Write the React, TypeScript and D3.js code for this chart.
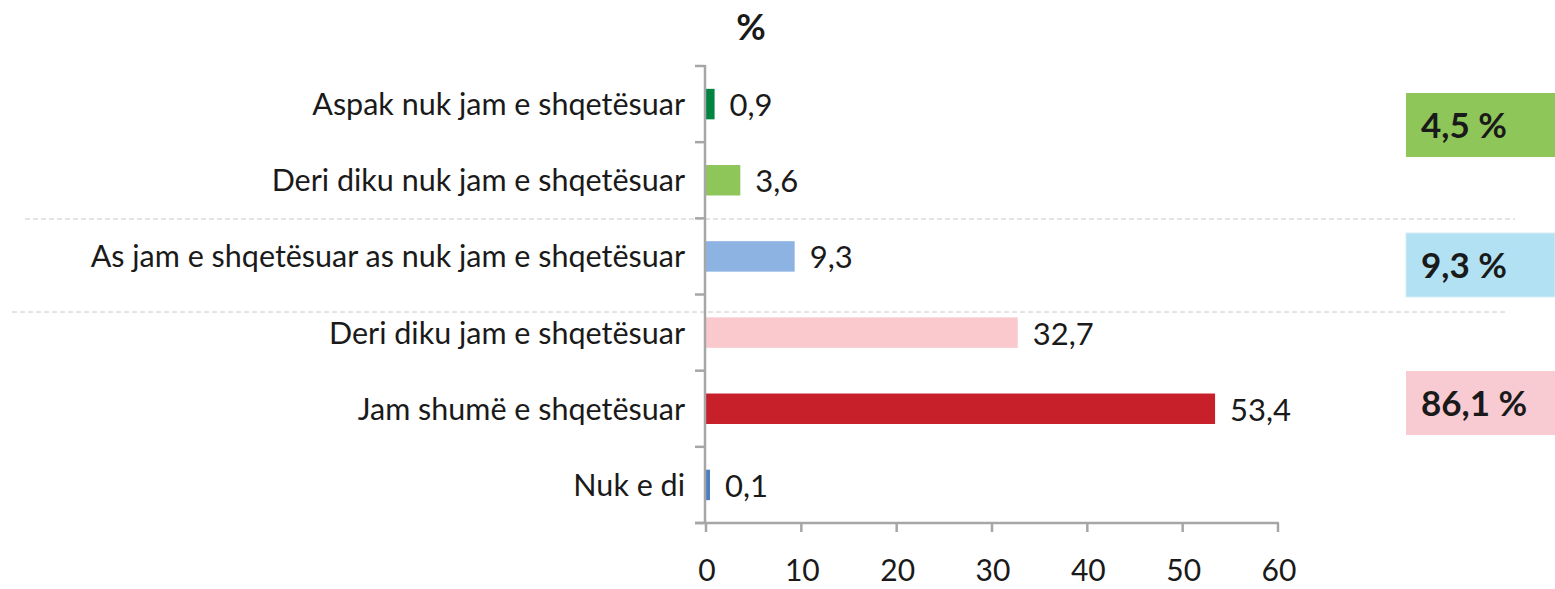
import React from "react";
import * as d3 from "d3";

const categories = [
  "Aspak nuk jam e shqetësuar",
  "Deri diku nuk jam e shqetësuar",
  "As jam e shqetësuar as nuk jam e shqetësuar",
  "Deri diku jam e shqetësuar",
  "Jam shumë e shqetësuar",
  "Nuk e di",
];
const values = [0.9, 3.6, 9.3, 32.7, 53.4, 0.1];
const valueLabels = ["0,9", "3,6", "9,3", "32,7", "53,4", "0,1"];
const barColors = ["#00843F", "#8FC65A", "#8DB3E2", "#F9C9CE", "#C8202A", "#4A7FC0"];
const xTicks = [0, 10, 20, 30, 40, 50, 60];
const groupLabels = ["4,5 %", "9,3 %", "86,1 %"];
const groupColors = ["#8FC65A", "#B1E1F3", "#F8CBD3"];

const W = 1555;
const H = 589;
const FONT = "Lato, 'Open Sans', sans-serif";

export default function App() {
  const x = d3.scaleLinear().domain([0, 60]).range([706, 1278]);
  const y = d3
    .scaleBand<string>()
    .domain(categories)
    .range([66, 523])
    .paddingInner(0.6)
    .paddingOuter(0.3);
  const step = y.step();
  const top = 66;
  const bottom = 523;
  const boundaries = d3.range(categories.length + 1).map((i) => top + i * step);

  const boxTops = [93, 233, 371];
  const boxH = 64;
  const dashed = [
    { y: 219, x1: 25, x2: 1515 },
    { y: 312, x1: 12, x2: 1505 },
  ];

  return (
    <svg
      width={W}
      height={H}
      style={{ position: "absolute", left: 0, top: 0, background: "#fff" }}
      fontFamily={FONT}
    >
      {dashed.map((d, i) => (
        <line
          key={i}
          x1={d.x1}
          x2={d.x2}
          y1={d.y}
          y2={d.y}
          stroke="#C8C8C8"
          strokeWidth={1}
          strokeDasharray="5,3"
        />
      ))}

      <text x={751} y={40} fontSize={36} fontWeight="bold" fill="#1a1a1a" textAnchor="middle">
        %
      </text>

      {categories.map((c, i) => (
        <rect
          key={c}
          x={x(0)}
          y={y(c)!}
          width={Math.max(x(values[i]) - x(0), 4)}
          height={y.bandwidth()}
          fill={barColors[i]}
        />
      ))}

      {categories.map((c, i) => (
        <text
          key={c}
          x={Math.max(x(values[i]), x(0) + 4) + 15}
          y={y(c)! + y.bandwidth() / 2 + 12}
          fontSize={31}
          fill="#1a1a1a"
        >
          {valueLabels[i]}
        </text>
      ))}

      {categories.map((c) => (
        <text
          key={c}
          x={685}
          y={y(c)! + y.bandwidth() / 2 + 11}
          fontSize={30.5}
          fill="#1a1a1a"
          textAnchor="end"
        >
          {c}
        </text>
      ))}

      <line x1={705} x2={705} y1={top - 1} y2={bottom + 1} stroke="#A6A6A6" strokeWidth={2.5} />
      {boundaries.map((b, i) => (
        <line key={i} x1={695} x2={705} y1={b} y2={b} stroke="#A6A6A6" strokeWidth={2.5} />
      ))}

      <line x1={695} x2={x(60) + 1} y1={bottom} y2={bottom} stroke="#A6A6A6" strokeWidth={2.5} />
      {xTicks.map((t) => (
        <g key={t}>
          <line x1={x(t)} x2={x(t)} y1={bottom} y2={bottom + 9} stroke="#A6A6A6" strokeWidth={2.5} />
          <text x={x(t) + 1} y={581} fontSize={30} fill="#1a1a1a" textAnchor="middle">
            {t}
          </text>
        </g>
      ))}

      {groupLabels.map((g, i) => (
        <g key={g}>
          <rect
            x={1406}
            y={boxTops[i]}
            width={W - 1406}
            height={boxH}
            fill={groupColors[i]}
            stroke={i === 1 ? "#D6EEF7" : "none"}
          />
          <text
            x={1421}
            y={boxTops[i] + boxH / 2 + 13}
            fontSize={35}
            fontWeight="bold"
            fill="#1a1a1a"
          >
            {g}
          </text>
        </g>
      ))}
    </svg>
  );
}
